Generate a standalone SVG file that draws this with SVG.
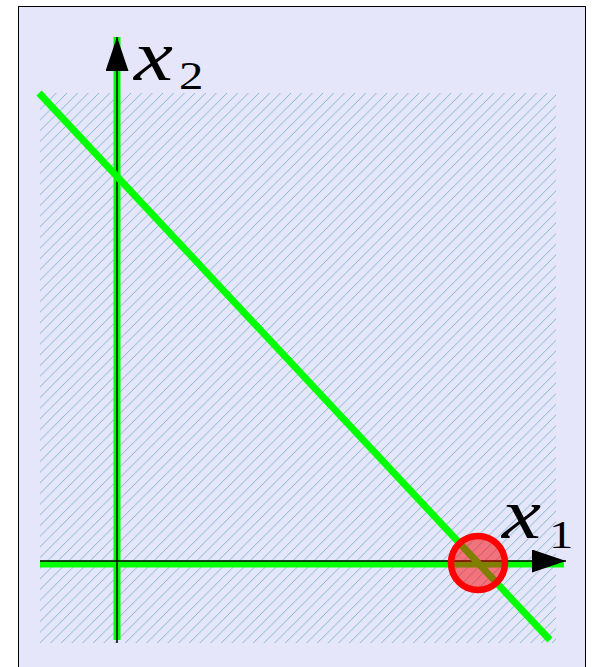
<svg xmlns="http://www.w3.org/2000/svg" width="593" height="667" viewBox="0 0 593 667">
<style>
.green{stroke:#00ff00;stroke-width:7;fill:none;stroke-linecap:butt}
.axis{stroke:#000;stroke-width:1.5;fill:none}
.lbl{font-family:"Liberation Serif","DejaVu Serif",serif;font-style:italic;font-size:72px;fill:#000}
.sub{font-family:"Liberation Serif","DejaVu Serif",serif;font-size:40px;fill:#000}
</style>
<defs>
<pattern id="hatch" patternUnits="userSpaceOnUse" width="10.67" height="10.67">
<path d="M0,10.67 L10.67,0 M-2,2 L2,-2 M8.67,12.67 L12.67,8.67" stroke="#7eb6cc" stroke-width="1" shape-rendering="crispEdges"/>
</pattern>
<marker id="arr" markerUnits="userSpaceOnUse" markerWidth="36" markerHeight="24" refX="34" refY="11.5" orient="auto">
<path d="M0,0 L34,11.5 L0,23 Z" fill="#000"/>
</marker>
</defs>
<rect x="18.5" y="6.5" width="567" height="680" fill="#e6e6fa" stroke="#000" stroke-width="1"/>
<rect id="region" x="40" y="93" width="516" height="550" fill="url(#hatch)"/>
<g id="connectors">
<line id="x2-axis-green" class="green" x1="117" y1="37" x2="117" y2="640"/>
<line id="x1-axis-green" class="green" x1="40" y1="564" x2="564" y2="564"/>
<line id="x2-axis" class="axis" x1="117" y1="643" x2="117" y2="37" marker-end="url(#arr)"/>
<line id="x1-axis" class="axis" x1="40" y1="561" x2="566" y2="561" marker-end="url(#arr)"/>
<line id="constraint" class="green" stroke-width="8" x1="39" y1="93" x2="550" y2="640"/>
</g>
<g id="optimum">
<circle cx="478" cy="563" r="27" fill="#ff0000" fill-opacity="0.5" stroke="#ff0000" stroke-width="6.5"/>
</g>
<g id="label-x2">
<text class="lbl" transform="translate(134,80) scale(1.22,1)">x</text>
<text class="sub" transform="translate(179,89) scale(1.22,1)">2</text>
</g>
<g id="label-x1">
<text class="lbl" transform="translate(502,538) scale(1.22,1)">x</text>
<text class="sub" transform="translate(549,548) scale(1.22,1)">1</text>
</g>
</svg>
